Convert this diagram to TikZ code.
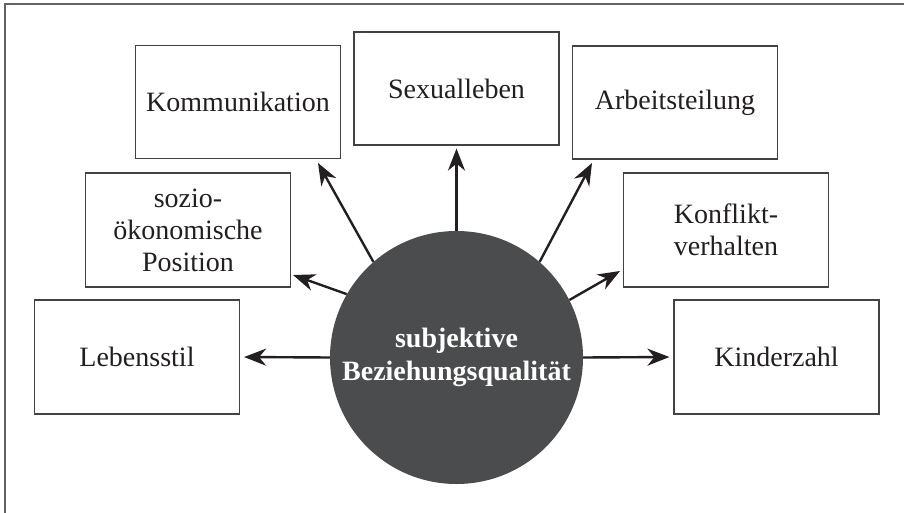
\documentclass[tikz,border=0pt]{standalone}
\usepackage{fontspec}
\setmainfont{Liberation Serif}
\usetikzlibrary{arrows.meta}
\definecolor{disc}{HTML}{4B4C4E}
\definecolor{ink}{HTML}{231F20}
\begin{document}
\begin{tikzpicture}[x=1pt,y=-1pt,
  box/.style={draw=ink!85, line width=1.2pt, minimum width=205pt, minimum height=113pt,
    inner sep=0pt, align=center, font=\fontsize{28}{32}\selectfont, text=ink},
  hub/.style={circle, fill=disc, minimum size=253pt, inner sep=0pt, text=white,
    align=center, font=\bfseries\fontsize{28}{33}\selectfont},
  arr/.style={-{Stealth[length=22pt,width=17pt,inset=7pt]}, line width=2.4pt, draw=ink}]
\useasboundingbox (0,0) rectangle (904,513);
\draw[line width=1.2pt, draw=ink!70] (5,513) -- (5,4) -- (904,4);

\node[box] (komm) at (238,102) {Kommunikation};
\node[box] (sex)  at (456.5,88.5) {Sexualleben};
\node[box] (arb)  at (675,102.5) {Arbeitsteilung};
\node[box, minimum height=114pt] (pos)  at (188,230) {sozio-\\ökonomische\\Position};
\node[box, minimum height=114pt] (konf) at (726,230) {Konflikt-\\verhalten};
\node[box, minimum height=114pt] (leb)  at (137,357) {Lebensstil};
\node[box, minimum height=114pt] (kin)  at (776.5,357) {Kinderzahl};

\node[hub] (c) at (456.5,357.5) {subjektive\\Beziehungsqualität};

\coordinate (tKomm) at (318,163);
\coordinate (tArb)  at (592,163);
\coordinate (tPos)  at (293,275);
\coordinate (tKonf) at (620,271);

\draw[arr, shorten >=4pt] (c.west) -- (leb.east);
\draw[arr, shorten >=4pt] (c.east) -- (kin.west);
\draw[arr, shorten >=3pt] (c.north) -- (sex.south);
\draw[arr] (c.131) -- (tKomm);
\draw[arr] (c.49) -- (tArb);
\draw[arr] (c.150) -- (tPos);
\draw[arr] (c.27) -- (tKonf);
\end{tikzpicture}
\end{document}
